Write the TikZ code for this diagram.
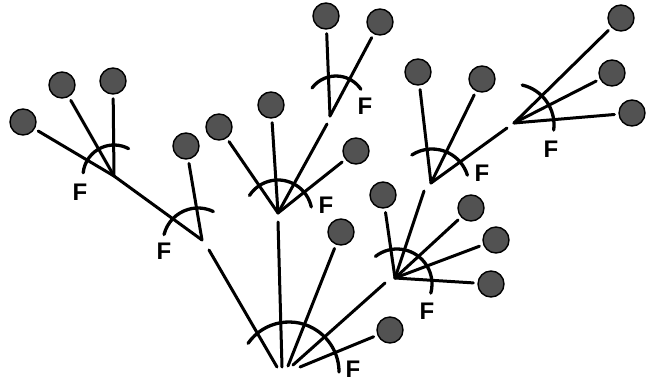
\documentclass[tikz,border=0pt]{standalone}
\usepackage{fontspec}
\setmainfont{Liberation Sans}
\begin{document}
\begin{tikzpicture}[x=1pt,y=-1pt,
  ball/.style={circle,draw=black,line width=1.4pt,fill=black!68,minimum size=26pt,inner sep=0pt},
  link/.style={line width=3pt,line cap=round},
  leaf/.style={link,shorten <=4pt},
  farc/.style={line width=3.3pt,line cap=round},
  flab/.style={font=\fontsize{24}{24}\selectfont\bfseries,inner sep=0pt}]
\useasboundingbox (0,0) rectangle (652,383);

% leaves
\node[ball] (b1)  at (23,122) {};
\node[ball] (b2)  at (62,85) {};
\node[ball] (b3)  at (113,81) {};
\node[ball] (b4)  at (186,146) {};
\node[ball] (b5)  at (219,127) {};
\node[ball] (b6)  at (271,105) {};
\node[ball] (b7)  at (326,16) {};
\node[ball] (b8)  at (380,22) {};
\node[ball] (b9)  at (356,151) {};
\node[ball] (b10) at (341,232) {};
\node[ball] (b11) at (390,330) {};
\node[ball] (b12) at (418,72) {};
\node[ball] (b13) at (482,79) {};
\node[ball] (b14) at (621,18) {};
\node[ball] (b15) at (612,73) {};
\node[ball] (b16) at (632,113) {};
\node[ball] (b17) at (383,195) {};
\node[ball] (b18) at (471,208) {};
\node[ball] (b19) at (496,240) {};
\node[ball] (b20) at (491,284) {};

% branching points
\coordinate (J1) at (114,176);
\coordinate (J2) at (202,240);
\coordinate (J2o) at (209,250);
\coordinate (J3) at (278,213);
\coordinate (J3o) at (278,222);
\coordinate (J4) at (330,116);
\coordinate (J4o) at (327,124);
\coordinate (J5) at (395,278);
\coordinate (J5o) at (385,283);
\coordinate (J6) at (431,183);
\coordinate (J6o) at (424,191);
\coordinate (J7) at (514,123);
\coordinate (J7o) at (507,128);
% ends of the root branches
\coordinate (R1) at (277,367);
\coordinate (R2) at (282,367);
\coordinate (R3) at (288,366);
\coordinate (R4) at (293,365);
\coordinate (R5) at (300,367);

% stems from the leaves
\foreach \b/\j in {b1/J1,b2/J1,b3/J1,b4/J2,b5/J3,b6/J3,b7/J4,b8/J4,b9/J3,
                   b12/J6,b13/J6,b14/J7,b15/J7,b16/J7,
                   b17/J5,b18/J5,b19/J5,b20/J5}
  \draw[leaf] (\b) -- (\j);
\draw[leaf] (b10) -- (R3);
\draw[leaf] (b11) -- (R5);

% links between branching points
\draw[link] (J1) -- (J2);
\draw[link] (J2o) -- (R1);
\draw[link] (J3o) -- (R2);
\draw[link] (J4o) -- (J3);
\draw[link] (J5o) -- (R4);
\draw[link] (J6o) -- (J5);
\draw[link] (J7o) -- (J6);

% angle arcs
\coordinate (A1) at (114,176);
\coordinate (A2) at (198,243);
\coordinate (A3) at (278,214);
\coordinate (A4) at (336,106);
\coordinate (A5) at (397,284);
\coordinate (A6) at (432,186);
\coordinate (A7) at (513,125);
\coordinate (AR) at (289,372);
\draw[farc] (A1) ++(-174:31) arc[start angle=-174,end angle=-62,radius=31];
\draw[farc] (A2) ++(-166:35) arc[start angle=-166,end angle=-64,radius=35];
\draw[farc] (A3) ++(-147:34) arc[start angle=-147,end angle=-12,radius=34];
\draw[farc] (A4) ++(-143:30) arc[start angle=-143,end angle=-34,radius=30];
\draw[farc] (A5) ++(-128:35) arc[start angle=-128,end angle=15,radius=35];
\draw[farc] (A6) ++(-123:37) arc[start angle=-123,end angle=-17,radius=37];
\draw[farc] (A7) ++(-77:41) arc[start angle=-77,end angle=7,radius=41];
\draw[farc] (AR) ++(-145:50) arc[start angle=-145,end angle=0,radius=50];

% labels
\node[flab] (f1) at (80,192) {F};
\node[flab] (f2) at (164,251) {F};
\node[flab] (f3) at (326,205) {F};
\node[flab] (f4) at (365,106) {F};
\node[flab] (f5) at (427,311) {F};
\node[flab] (f6) at (482,173) {F};
\node[flab] (f7) at (551,149) {F};
\node[flab] (fr) at (353,369) {F};
\end{tikzpicture}
\end{document}
